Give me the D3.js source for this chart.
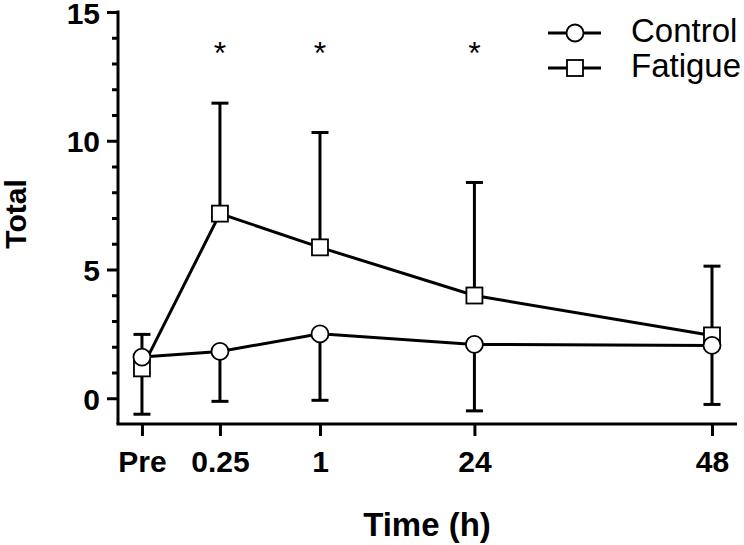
<!DOCTYPE html>
<html>
<head>
<meta charset="utf-8">
<script src="https://cdn.jsdelivr.net/npm/d3@7"></script>
<style>
  html, body { margin: 0; padding: 0; background: #fff; }
  svg { display: block; font-family: "Liberation Sans", Arial, sans-serif; }
</style>
</head>
<body>
<svg id="chart" width="744" height="545"></svg>
<script>
// ---- data ----
const categories = ["Pre", "0.25", "1", "24", "48"];
const controlMean = [1.60, 1.82, 2.50, 2.09, 2.05];
const controlSD   = [2.22, 1.94, 2.58, 2.58, 2.29];
const fatigueMean = [1.16, 7.17, 5.86, 3.99, 2.44];
const fatigueSD   = [1.32, 4.29, 4.46, 4.39, 2.69];
const significant = ["0.25", "1", "24"];
const yTicksMajor = [0, 5, 10, 15];
const seriesNames = ["Control", "Fatigue"];

// ---- layout ----
const svg = d3.select("#chart");
const plot = { left: 118, right: 737, top: 12, bottom: 424 };
// relative category positions along the x axis (unequal spacing as in the original)
const catFrac = [0.0387, 0.1647, 0.3263, 0.5758, 0.9596];

const x = d3.scaleOrdinal()
  .domain(categories)
  .range(catFrac.map(f => plot.left + f * (plot.right - plot.left)));
const y = d3.scaleLinear().domain([-1, 15]).range([plot.bottom, plot.top]);

const lw = 3;

// ---- axes ----
const yMajor = d3.axisLeft(y).tickValues(yTicksMajor).tickSize(11).tickPadding(7).tickFormat(d3.format("d"));
const yMinor = d3.axisLeft(y).tickValues(d3.range(1, 15).filter(v => v % 5 !== 0)).tickSize(6).tickFormat("");

const gyMinor = svg.append("g").attr("transform", `translate(${plot.left},0)`).call(yMinor);
const gy = svg.append("g").attr("transform", `translate(${plot.left},0)`).call(yMajor);
[gy, gyMinor].forEach(g => {
  g.select(".domain").remove();
  g.selectAll(".tick line").attr("stroke", "#000").attr("stroke-width", lw);
});
gy.selectAll(".tick text")
  .attr("font-size", 30).attr("font-weight", "bold").attr("fill", "#000")
  .attr("dy", "0.37em");
svg.append("line")
  .attr("x1", plot.left).attr("x2", plot.left)
  .attr("y1", plot.top - 1.5).attr("y2", plot.bottom)
  .attr("stroke", "#000").attr("stroke-width", lw);

const xAxis = d3.axisBottom(x).tickSize(12).tickPadding(15);
const gx = svg.append("g").attr("transform", `translate(0,${plot.bottom})`).call(xAxis);
gx.select(".domain").remove();
gx.selectAll(".tick line").attr("stroke", "#000").attr("stroke-width", lw);
gx.selectAll(".tick text")
  .attr("font-size", 30).attr("font-weight", "bold").attr("fill", "#000");
svg.append("line")
  .attr("x1", plot.left - 1.5).attr("x2", plot.right)
  .attr("y1", plot.bottom).attr("y2", plot.bottom)
  .attr("stroke", "#000").attr("stroke-width", lw);

// axis titles
svg.append("text")
  .attr("x", 427).attr("y", 536)
  .attr("text-anchor", "middle")
  .attr("font-size", 33).attr("font-weight", "bold")
  .text("Time (h)");
svg.append("text")
  .attr("transform", `translate(26,${214}) rotate(-90)`)
  .attr("text-anchor", "middle")
  .attr("font-size", 30).attr("font-weight", "bold")
  .text("Total");

// ---- data marks ----
const control = categories.map((c, i) => ({ c, m: controlMean[i], sd: controlSD[i] }));
const fatigue = categories.map((c, i) => ({ c, m: fatigueMean[i], sd: fatigueSD[i] }));
const capW = 17;

function errorBars(data, dir) {
  const g = svg.append("g").attr("stroke", "#000").attr("stroke-width", lw);
  data.forEach(d => {
    const end = d.m + dir * d.sd;
    g.append("line").attr("x1", x(d.c)).attr("x2", x(d.c))
      .attr("y1", y(d.m)).attr("y2", y(end));
    g.append("line").attr("x1", x(d.c) - capW / 2).attr("x2", x(d.c) + capW / 2)
      .attr("y1", y(end)).attr("y2", y(end));
  });
}
errorBars(fatigue, +1);
errorBars(control, -1);

const line = d3.line().x(d => x(d.c)).y(d => y(d.m));
svg.append("path").datum(fatigue).attr("d", line)
  .attr("fill", "none").attr("stroke", "#000").attr("stroke-width", lw);
svg.append("path").datum(control).attr("d", line)
  .attr("fill", "none").attr("stroke", "#000").attr("stroke-width", lw);

const sq = 16, r = 8.5;
svg.append("g").selectAll("rect").data(fatigue).join("rect")
  .attr("x", d => x(d.c) - sq / 2).attr("y", d => y(d.m) - sq / 2)
  .attr("width", sq).attr("height", sq)
  .attr("fill", "#fff").attr("stroke", "#000").attr("stroke-width", 1.8);
svg.append("g").selectAll("circle").data(control).join("circle")
  .attr("cx", d => x(d.c)).attr("cy", d => y(d.m)).attr("r", r)
  .attr("fill", "#fff").attr("stroke", "#000").attr("stroke-width", 1.8);

// significance asterisks
svg.append("g").selectAll("text").data(significant).join("text")
  .attr("x", d => x(d)).attr("y", 64)
  .attr("text-anchor", "middle")
  .attr("font-size", 32)
  .text("*");

// ---- legend ----
const legend = svg.append("g");
const legendRows = [{ name: seriesNames[0], sym: "circle", y: 33 }, { name: seriesNames[1], sym: "square", y: 68 }];
legendRows.forEach(row => {
  legend.append("line").attr("x1", 548).attr("x2", 601)
    .attr("y1", row.y).attr("y2", row.y)
    .attr("stroke", "#000").attr("stroke-width", lw);
  if (row.sym === "circle") {
    legend.append("circle").attr("cx", 575).attr("cy", row.y).attr("r", r)
      .attr("fill", "#fff").attr("stroke", "#000").attr("stroke-width", 1.8);
  } else {
    legend.append("rect").attr("x", 575 - sq / 2).attr("y", row.y - sq / 2)
      .attr("width", sq).attr("height", sq)
      .attr("fill", "#fff").attr("stroke", "#000").attr("stroke-width", 1.8);
  }
  legend.append("text").attr("x", 631).attr("y", row.y + 9)
    .attr("font-size", 33)
    .text(row.name);
});
</script>
</body>
</html>
